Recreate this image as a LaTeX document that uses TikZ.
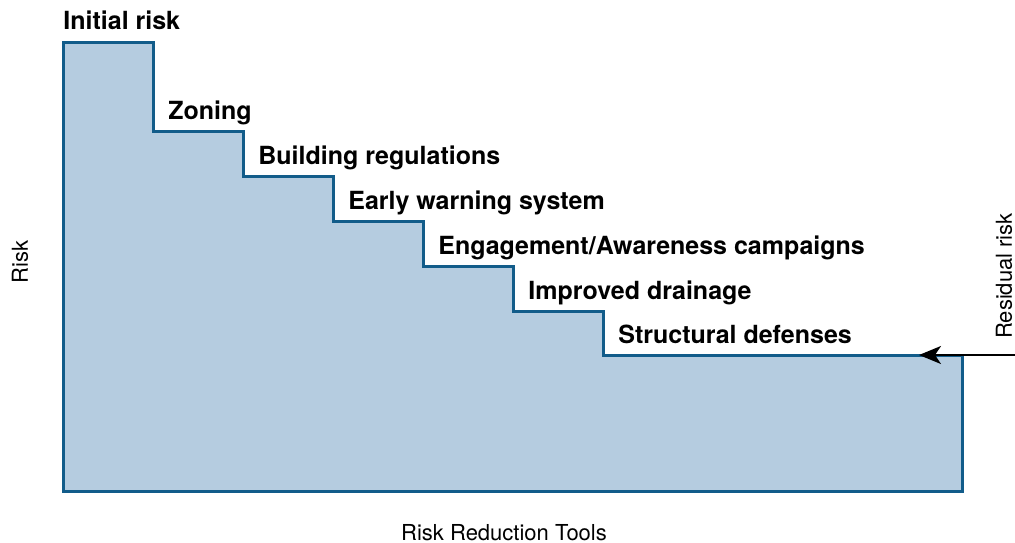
\documentclass[tikz,border=0pt]{standalone}
\usepackage{fontspec}
\setmainfont{TeX Gyre Heros}
\usetikzlibrary{arrows.meta}
\definecolor{riskfill}{RGB}{181,204,224}
\definecolor{riskline}{RGB}{18,92,138}

\begin{document}
\begin{tikzpicture}[
    x=0.5pt, y=-0.5pt,
    steplabel/.style={
      anchor=base west,
      inner sep=0pt,
      font=\fontsize{12.5}{15}\selectfont\bfseries
    },
    axislabel/.style={
      inner sep=0pt,
      font=\fontsize{11}{13}\selectfont
    },
    riskarea/.style={
      draw=riskline,
      fill=riskfill,
      line width=1.5pt,
      line join=miter
    },
    pointer/.style={
      line width=1pt,
      -{Stealth[length=11pt, width=9pt, inset=3pt]}
    }
  ]
  \useasboundingbox (0,0) rectangle (1015,542);

  % stepped risk area
  \draw[riskarea] (63,42) -- (153,42) -- (153,131) -- (243,131) -- (243,176)
    -- (333,176) -- (333,221) -- (423,221) -- (423,266) -- (513,266)
    -- (513,311) -- (603,311) -- (603,355) -- (962,355) -- (962,491)
    -- (63,491) -- cycle;

  % labels of the steps
  \node[steplabel] (initial)    at (63,29)  {Initial risk};
  \node[steplabel] (zoning)     at (168,119) {Zoning};
  \node[steplabel] (building)   at (258,164) {Building regulations};
  \node[steplabel] (warning)    at (348,209) {Early warning system};
  \node[steplabel] (engagement) at (438,254) {Engagement/Awareness campaigns};
  \node[steplabel] (drainage)   at (528,299) {Improved drainage};
  \node[steplabel] (defenses)   at (618,343) {Structural defenses};

  % axes
  \node[axislabel, rotate=90] (risk)     at (20,262)  {Risk};
  \node[axislabel, rotate=90] (residual) at (1004,276) {Residual risk};
  \node[axislabel, anchor=base] (tools)  at (504,540) {Risk Reduction Tools};

  % residual risk pointer
  \coordinate (start) at (1015,355);
  \coordinate (tip)   at (919,355);
  \draw[pointer] (start) -- (tip);
\end{tikzpicture}
\end{document}
